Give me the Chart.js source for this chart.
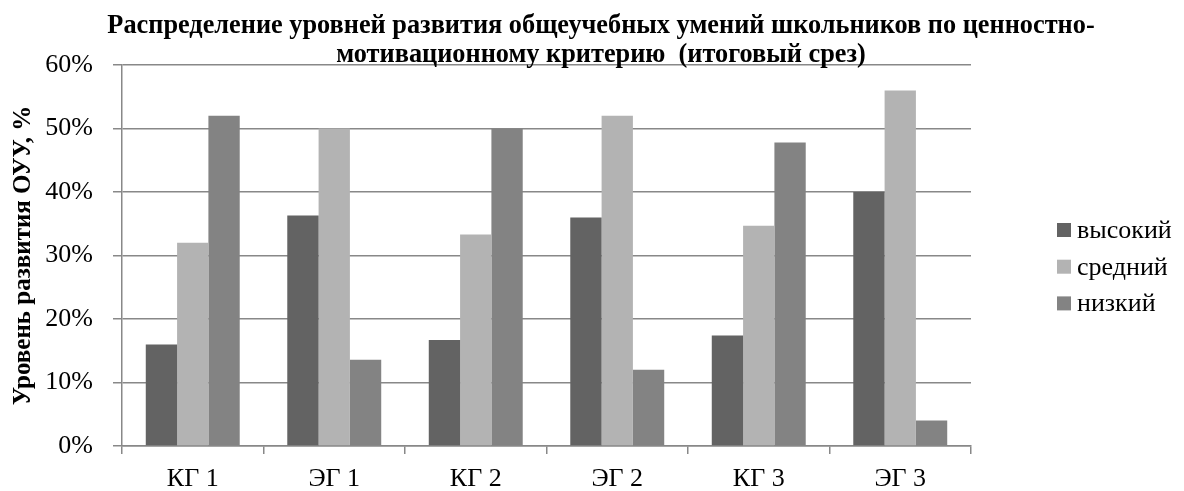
<!DOCTYPE html>
<html lang="ru">
<head>
<meta charset="utf-8">
<title>Распределение уровней развития ОУУ</title>
<script src="https://cdn.jsdelivr.net/npm/chart.js@4/dist/chart.umd.min.js"></script>
<style>
  html, body { margin: 0; padding: 0; background: #ffffff; }
  #wrap { width: 1184px; height: 491px; position: relative; }
</style>
</head>
<body>
<div id="wrap"><canvas id="chart" width="1184" height="491"></canvas></div>
<script>
// Groups and levels
const categories = ['КГ 1', 'ЭГ 1', 'КГ 2', 'ЭГ 2', 'КГ 3', 'ЭГ 3'];
const seriesNames = ['высокий', 'средний', 'низкий'];

// Share of pupils per level, %
const highValues   = [16, 36.3, 16.7, 36, 17.4, 40];
const middleValues = [32, 50, 33.3, 52, 34.7, 56];
const lowValues    = [52, 13.6, 50, 12, 47.8, 4];

const yTicks = [0, 10, 20, 30, 40, 50, 60];

const titleLines = [
  'Распределение уровней развития общеучебных умений школьников по ценностно-',
  'мотивационному критерию  (итоговый срез)'
];
const yAxisTitle = 'Уровень развития ОУУ, %';

const colors = ['#636363', '#b3b3b3', '#838383'];
const serif = '"Liberation Serif", "Times New Roman", serif';

// Heading over the plot and legend on the right
const decorations = {
  id: 'decorations',
  afterDraw(chart) {
    const ctx = chart.ctx;
    ctx.save();
    ctx.fillStyle = '#000';
    ctx.textAlign = 'center';
    ctx.textBaseline = 'alphabetic';
    ctx.font = 'bold 26.3px ' + serif;
    ctx.fillText(titleLines[0], 601, 33);
    ctx.fillText(titleLines[1], 601, 62);

    ctx.textAlign = 'left';
    ctx.font = '26px ' + serif;
    chart.data.datasets.forEach((ds, i) => {
      const top = 223 + i * 36.7;
      ctx.fillStyle = ds.backgroundColor;
      ctx.fillRect(1057, top, 14, 14);
      ctx.fillStyle = '#000';
      ctx.fillText(ds.label, 1077, top + 15);
    });
    ctx.restore();
  }
};

new Chart(document.getElementById('chart'), {
  type: 'bar',
  data: {
    labels: categories,
    datasets: [
      { label: seriesNames[0], data: highValues,   backgroundColor: colors[0] },
      { label: seriesNames[1], data: middleValues, backgroundColor: colors[1] },
      { label: seriesNames[2], data: lowValues,    backgroundColor: colors[2] }
    ]
  },
  options: {
    responsive: false,
    animation: false,
    devicePixelRatio: 1,
    layout: { padding: { left: 0, right: 213, top: 65, bottom: 0 } },
    datasets: {
      bar: { categoryPercentage: 0.664, barPercentage: 1, borderWidth: 0 }
    },
    plugins: {
      legend: { display: false },
      title: { display: false },
      tooltip: { enabled: false }
    },
    scales: {
      x: {
        afterFit(scale) { scale.height = 45; },
        grid: {
          offset: true,
          drawOnChartArea: false,
          drawTicks: true,
          tickLength: 8,
          color: '#888888',
          lineWidth: 1.5
        },
        border: { display: true, color: '#888888', width: 1.5 },
        ticks: {
          color: '#000',
          padding: 10,
          font: { family: serif, size: 26 }
        }
      },
      y: {
        min: 0,
        max: 60,
        afterFit(scale) { scale.width = 122; },
        afterBuildTicks(scale) { scale.ticks = yTicks.map(v => ({ value: v })); },
        grid: {
          drawTicks: true,
          tickLength: 9,
          color: '#888888',
          lineWidth: 1.5
        },
        border: { display: true, color: '#888888', width: 1.5 },
        ticks: {
          color: '#000',
          padding: 20,
          font: { family: serif, size: 26 },
          callback: v => v + '%'
        },
        title: {
          display: true,
          text: yAxisTitle,
          color: '#000',
          padding: { top: 9 },
          font: { family: serif, size: 25, weight: 'bold' }
        }
      }
    }
  },
  plugins: [decorations]
});
</script>
</body>
</html>
